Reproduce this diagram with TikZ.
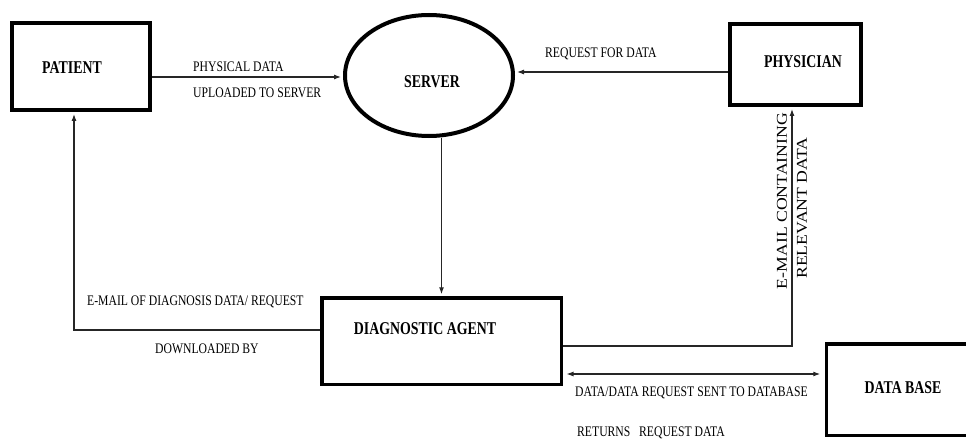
\documentclass[tikz,border=0pt]{standalone}
\usepackage{fontspec}
\setmainfont{Liberation Serif}
\usepackage{graphicx}
\usetikzlibrary{shapes.geometric,arrows.meta}

% flow labels: condensed serif capitals
\newcommand{\flowtxt}[1]{\scalebox{0.8}[1]{\fontsize{14.6}{16}\selectfont #1}}
% entity names: condensed bold serif
\newcommand{\entitytxt}[1]{\scalebox{0.77}[1]{\fontsize{18}{20}\selectfont\bfseries #1}}
% vertical flow labels
\newcommand{\verttxt}[1]{\scalebox{1.12}[0.95]{\fontsize{15.8}{17}\selectfont #1}}

\begin{document}
\begin{tikzpicture}[x=1pt,y=-1pt,
  entity/.style={draw=black,rectangle,inner sep=0pt},
  heavy/.style={line width=4pt},
  medium/.style={line width=3.5pt},
  flow/.style={draw=black!85,line width=1.1pt},
  tip/.style={-{Latex[length=7pt,width=5pt]}},
  twotips/.style={{Latex[length=7pt,width=5pt]}-{Latex[length=7pt,width=5pt]}},
  txt/.style={inner sep=0pt,anchor=west}]

\useasboundingbox (0,0) rectangle (966,441);

% entities
\node[entity,heavy,minimum width=138pt,minimum height=87pt] (patient) at (81,66.5) {};
\node[inner sep=0pt] (patientlbl) at (72,68) {\entitytxt{PATIENT}};

\node[draw=black,ellipse,line width=4pt,minimum width=168pt,minimum height=121pt,inner sep=0pt] (server) at (429,75.5) {};
\node[inner sep=0pt] (serverlbl) at (432,82) {\entitytxt{SERVER}};

\node[entity,heavy,minimum width=131pt,minimum height=81pt] (physician) at (795.5,64.5) {};
\node[inner sep=0pt] (physicianlbl) at (803,62) {\entitytxt{PHYSICIAN}};

\node[entity,medium,minimum width=239.5pt,minimum height=86.5pt] (agent) at (441.5,341) {};
\node[inner sep=0pt] (agentlbl) at (425,329) {\entitytxt{DIAGNOSTIC AGENT}};

\node[entity,medium,minimum width=146pt,minimum height=91.5pt] (db) at (899.5,389.5) {};
\node[inner sep=0pt] (dblbl) at (903,388) {\entitytxt{DATA BASE}};

% connector end points on the entity borders
\coordinate (pa) at ([yshift=-10.5pt]patient.east);
\coordinate (ph) at ([yshift=-7.5pt]physician.west);
\coordinate (ag) at ([yshift=-33pt]agent.east);
% corners of the routed connectors
\coordinate (pk) at (74,330);
\coordinate (qk) at (792,346);

% connectors
\draw[flow,tip,shorten >=2pt] (pa) -- (pa -| server.west);
\draw[flow,tip,shorten >=2pt] (ph) -- (ph -| server.east);
\draw[flow,tip,shorten >=1.75pt] (server.south -| agent.north) -- (agent.north);
\draw[flow,tip,shorten >=2pt] ([yshift=11pt]agent.west) -- (pk) -- (pk |- patient.south);
\draw[flow,tip,shorten >=2pt] ([yshift=-5pt]agent.east) -- (qk) -- (qk |- physician.south);
\draw[flow,twotips,shorten <=3.5pt,shorten >=4.5pt] (ag) -- (ag -| db.west);

% flow labels
\node[txt] (l1) at (193,67) {\flowtxt{PHYSICAL DATA}};
\node[txt] (l2) at (193,93) {\flowtxt{UPLOADED TO SERVER}};
\node[txt] (l3) at (545,54) {\flowtxt{REQUEST FOR DATA}};
\node[txt] (l4) at (87,302) {\flowtxt{E-MAIL OF DIAGNOSIS DATA/ REQUEST}};
\node[txt] (l5) at (155,349) {\flowtxt{DOWNLOADED BY}};
\node[txt] (l6) at (575,393) {\flowtxt{DATA/DATA REQUEST SENT TO DATABASE}};
\node[txt] (l7) at (577,433) {\flowtxt{RETURNS\hspace{0.5em} REQUEST DATA}};
\node[inner sep=0pt,rotate=90] (l8) at (782,201) {\verttxt{E-MAIL CONTAINING}};
\node[inner sep=0pt,rotate=90] (l9) at (802,208) {\verttxt{RELEVANT DATA}};

\end{tikzpicture}
\end{document}
